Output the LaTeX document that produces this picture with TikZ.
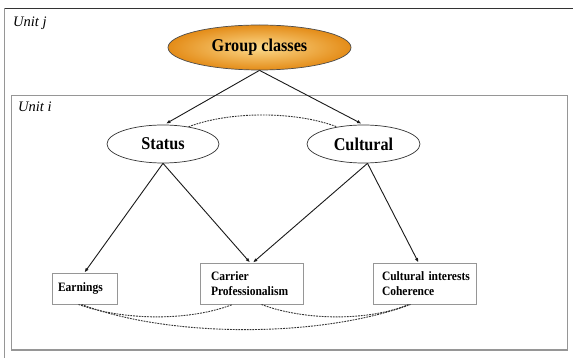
\documentclass[tikz,border=0pt]{standalone}
\usepackage{fontspec}
\setmainfont{Liberation Serif}
\newfontfamily\condserif[FakeStretch=0.9]{Liberation Serif}
\usetikzlibrary{shapes.geometric,arrows.meta,calc}
\definecolor{gcinner}{RGB}{252,218,140}
\definecolor{gcouter}{RGB}{228,140,24}
\definecolor{boxgray}{RGB}{150,150,150}
\tikzset{
  conn/.style={draw=black!90, line width=0.9pt, -{Latex[length=4.5pt,width=3.5pt]}},
  corr/.style={draw=black!80, line width=0.9pt, dash pattern=on 1.8pt off 1.0pt},
  latent/.style={ellipse, draw=black!80, line width=0.7pt, fill=white, font=\condserif\bfseries\fontsize{18}{20}\selectfont, inner sep=0pt},
  indic/.style={rectangle, draw=boxgray, line width=1pt, fill=white, font=\condserif\bfseries\fontsize{12.8}{15}\selectfont, align=left, inner ysep=0pt},
  unitlabel/.style={font=\itshape\fontsize{14.5}{16}\selectfont, anchor=base west, inner sep=0pt}
}
\begin{document}
\begin{tikzpicture}[x=1pt,y=-1pt]
\useasboundingbox (0,0) rectangle (573,358);
\clip (0,0) rectangle (573,358);
% outer box (Unit j)
\draw[boxgray, line width=1pt] (4.5,8.5) -- (4.5,370);
\draw[black!80, line width=1.2pt] (4.5,8.5) -- (590,8.5);
\node[unitlabel] (uj) at (13,27) {Unit j};
% inner box (Unit i)
\draw[boxgray, line width=1.6pt] (11.5,95.5) rectangle (567.5,350);
\node[unitlabel] (ui) at (18,112) {Unit i};
% latent nodes
\node[latent, minimum width=183pt, minimum height=45pt, draw=black!70, inner color=gcinner, outer color=gcouter] (gc) at (259.5,47.5) {Group classes};
\node[latent, minimum width=112pt, minimum height=38pt] (st) at (163,144) {Status};
\node[latent, minimum width=113pt, minimum height=38pt] (cu) at (363.5,144) {Cultural};
% indicators
\node[indic, minimum width=65pt, minimum height=31pt, text width=53pt, inner xsep=6pt] (ea) at (84.5,288.5) {Earnings\vphantom{p}};
\node[indic, minimum width=103pt, minimum height=41pt, text width=81pt, inner xsep=11pt] (ca) at (251.5,283.5) {Carrier\\Professionalism};
\node[indic, minimum width=103pt, minimum height=41pt, text width=93pt, inner xsep=5pt] (ci) at (424.5,283.5) {\hspace*{4pt}Cultural~interests\\\hspace*{4pt}Coherence};
% connectors
\draw[conn] (gc.south) -- ($(st.north)+(3,-1)$);
\draw[conn] (gc.south) -- ($(cu.north)+(-2,-1)$);
\draw[conn] (st.south) -- (ea.north);
\draw[conn] (st.south) -- ($(ca.north)+(-1.5,0)$);
\draw[conn] ($(cu.south)+(4,0)$) -- ($(ca.north)+(1.5,0)$);
\draw[conn] ($(cu.south)+(4,0)$) -- ($(ci.north)+(-6,0)$);
% correlations
\draw[corr] (st.34) .. controls (230,111) and (295,111) .. (cu.147);
\draw[corr] ($(ea.south)+(-6,0)$) .. controls (125,321) and (190,321) .. ($(ca.south)+(-19,0)$);
\draw[corr] ($(ea.south)+(-3,0)$) .. controls (170,338) and (320,338) .. ($(ci.south)+(-14,0)$);
\draw[corr] ($(ca.south)+(10,0)$) .. controls (305,321) and (370,321) .. ($(ci.south)+(-16,0)$);
\end{tikzpicture}
\end{document}
